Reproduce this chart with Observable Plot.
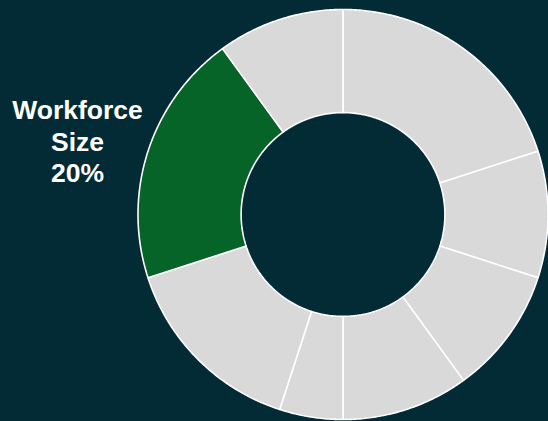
<!DOCTYPE html>
<html>
<head>
<meta charset="utf-8">
<script src="https://cdn.jsdelivr.net/npm/d3@7"></script>
<script src="https://cdn.jsdelivr.net/npm/@observablehq/plot@0.6"></script>
<style>
  html, body { margin: 0; padding: 0; background: #022b35; overflow: hidden; }
  #chart svg { display: block; }
</style>
</head>
<body>
<div id="chart"></div>
<script>
// Data (clockwise from 12 o'clock)
const categories = ["Segment A", "Segment B", "Segment C", "Segment D", "Segment E", "Segment F", "Workforce Size", "Segment H"];
const values = [20, 10, 10, 10, 5, 15, 20, 10];
const highlight = "Workforce Size";
const labelLines = ["Workforce", "Size", "20%"];

const innerRatio = 0.497;
const pie = d3.pie().sort(null).startAngle(0).endAngle(2 * Math.PI)(values);

// Build polygon outline per slice in unit (data) space
const pts = [];
pie.forEach((s, i) => {
  const cat = categories[i];
  const n = Math.max(8, Math.ceil((s.endAngle - s.startAngle) / 0.01));
  const ring = [];
  for (let k = 0; k <= n; k++) {
    const a = s.startAngle + (s.endAngle - s.startAngle) * k / n;
    ring.push([Math.sin(a), Math.cos(a)]);
  }
  for (let k = n; k >= 0; k--) {
    const a = s.startAngle + (s.endAngle - s.startAngle) * k / n;
    ring.push([innerRatio * Math.sin(a), innerRatio * Math.cos(a)]);
  }
  ring.push(ring[0]);
  ring.forEach(([x, y]) => pts.push({category: cat, x, y}));
});

const cx = 342.5, cy = 214, R = 205;

const chart = Plot.plot({
  width: 548,
  height: 421,
  margin: 0,
  style: {background: "#022b35", overflow: "visible"},
  x: {domain: [-1, 1], range: [cx - R, cx + R], axis: null},
  y: {domain: [-1, 1], range: [cy + R, cy - R], axis: null},
  marks: [
    Plot.line(pts, {
      x: "x", y: "y", z: "category",
      fill: d => d.category === highlight ? "#076429" : "#d9d9d9",
      stroke: "white",
      strokeWidth: 1.6,
      strokeLinejoin: "miter",
      curve: "linear"
    }),
    Plot.text([labelLines.join("\n")], {
      frameAnchor: "top-left",
      dx: 77, dy: 140,
      text: d => d,
      textAnchor: "middle",
      lineAnchor: "middle",
      lineHeight: 1.2,
      fill: "white",
      fontSize: 26.5,
      fontWeight: "bold",
      fontFamily: "Liberation Sans, Arial, sans-serif"
    })
  ]
});
document.getElementById("chart").appendChild(chart);
</script>
</body>
</html>
